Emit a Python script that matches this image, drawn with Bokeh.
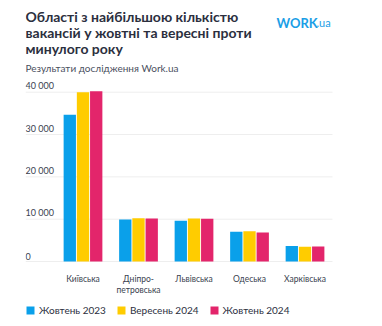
from bokeh.plotting import figure
from bokeh.models import (ColumnDataSource, Range1d, Label, Legend, LegendItem)
from bokeh.core.properties import value
from bokeh.embed import file_html
from bokeh.resources import INLINE

regions = ["Київська", "Дніпро-\nпетровська", "Львівська", "Одеська", "Харківська"]
oct_2023 = [34700, 9900, 9600, 7000, 3650]
sep_2024 = [40000, 10200, 10150, 7150, 3500]
oct_2024 = [40200, 10150, 10100, 6850, 3550]
series_names = ["Жовтень 2023", "Вересень 2024", "Жовтень 2024"]
y_ticks = [0, 10000, 20000, 30000, 40000]
y_tick_labels = ["0", "10 000", "20 000", "30 000", "40 000"]
colors = ["#0aa0ea", "#ffcc00", "#e3256b"]

FONT = "Lato"
DARK = "#2b2f3e"
H = 326

x_left = -1.036
x_grid_end = 4.495
p = figure(width=382, height=H, output_backend="svg", toolbar_location=None,
           x_range=Range1d(x_left, 5.396), y_range=Range1d(-15360, 61670),
           min_border_left=25, min_border_right=0, min_border_top=0, min_border_bottom=0)
p.outline_line_color = None
p.background_fill_color = "white"
p.border_fill_color = "white"
p.xaxis.visible = False
p.yaxis.visible = False
p.xgrid.visible = False
p.ygrid.visible = False

gsrc = ColumnDataSource(dict(x0=[x_left] * len(y_ticks), x1=[x_grid_end] * len(y_ticks), y=y_ticks))
p.segment(x0="x0", x1="x1", y0="y", y1="y", source=gsrc, line_color="#eeeeee", line_width=1)

xs = list(range(len(regions)))
offsets = [-0.238, 0.0, 0.238]
items = []
for vals, off, col, name in zip([oct_2023, sep_2024, oct_2024], offsets, colors, series_names):
    src = ColumnDataSource(dict(x=[x + off for x in xs], top=vals))
    r = p.vbar(x="x", top="top", bottom=0, width=0.222, source=src,
               fill_color=col, line_color=None)
    items.append(LegendItem(label=name, renderers=[r]))

tsrc = ColumnDataSource(dict(x=[x_left] * len(y_ticks), y=y_ticks, t=y_tick_labels))
p.text(x="x", y="y", text="t", source=tsrc, text_font=value(FONT), text_font_size="9px",
       text_color="#3a3f4f", text_baseline="bottom", text_align="left", y_offset=-1)

csrc = ColumnDataSource(dict(x=xs, y=[0] * len(xs), t=regions))
p.text(x="x", y="y", text="t", source=csrc, text_font=value(FONT), text_font_size="8.5px",
       text_color="#3a3f4f", text_baseline="top", text_align="center", y_offset=13,
       text_line_height=1.1)

legend = Legend(items=items, orientation="horizontal", location=(0, 10),
                label_text_font=FONT, label_text_font_size="10px", label_text_color=DARK,
                glyph_width=10, glyph_height=10, label_standoff=4, spacing=10,
                padding=0, margin=0, border_line_color=None, background_fill_alpha=0)
p.add_layout(legend)

FL = 25  # frame left offset for screen-unit labels

def lab(text, cx, cy, size, color, style="normal", baseline="middle"):
    p.add_layout(Label(x=cx - FL, y=H - cy, x_units="screen", y_units="screen", text=text,
                       text_font=FONT, text_font_size=size, text_font_style=style,
                       text_color=color, text_baseline=baseline))

title_lines = ["Області з найбільшою кількістю", "вакансій у жовтні та вересні проти", "минулого року"]
for i, line in enumerate(title_lines):
    lab(line, 25, 15.5 + 16 * i, "14px", DARK, "bold")
lab("Результати дослідження Work.ua", 25, 67, "10px", "#4a4f5e")
lab("WORK", 276, 22, "13px", "#1a9ee6", "bold", "alphabetic")
lab(".ua", 316, 22, "11px", "#1a9ee6", "normal", "alphabetic")

open("out.html", "w").write(file_html(p, INLINE))
